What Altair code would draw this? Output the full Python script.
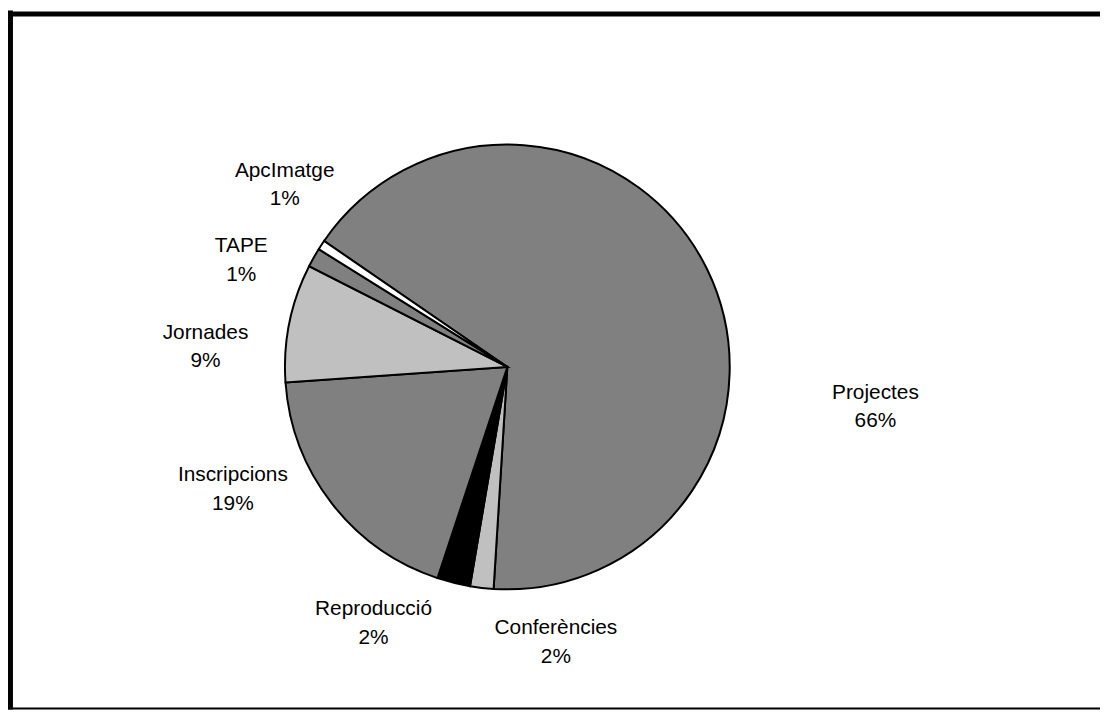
import math
import altair as alt
import pandas as pd

# ---- data ----
categories = ["Projectes", "Conferències", "Reproducció", "Inscripcions",
              "Jornades", "TAPE", "ApcImatge"]
values = [66.4, 1.7, 2.4, 18.8, 8.6, 1.4, 0.7]

# ---- styles / layout (kept apart from the data) ----
slice_colors = ["#808080", "#C0C0C0", "#000000", "#808080",
                "#C0C0C0", "#808080", "#FFFFFF"]
# angular nudge (deg) from slice middle and distance of each label from centre
label_nudge_deg = [32.2, -16.6, 13.6, 13.8, -7.7, -7.6, 6.0]
label_radius = [373.0, 281.7, 291.2, 302.8, 304.7, 288.8, 289.6]

START = math.radians(304.5)   # first slice starts here (clockwise from 12 o'clock)
TWO_PI = 2 * math.pi
CX, CY = 503, 359              # pie centre inside the SVG
R = 224
W, H = 1100, 704
LINE_H = 29

df = pd.DataFrame({
    "idx": list(range(len(categories))),
    "cat": categories,
    "value": values,
    "nudge": label_nudge_deg,
    "lr": label_radius,
})

base = alt.Chart(df)

pie = base.mark_arc(outerRadius=R, stroke="black", strokeWidth=2).encode(
    theta=alt.Theta("value:Q", stack=True,
                    scale=alt.Scale(range=[START, START + TWO_PI])),
    color=alt.Color("cat:N", scale=alt.Scale(domain=categories, range=slice_colors),
                    legend=None),
    order=alt.Order("idx:Q"),
    x=alt.value(CX),
    y=alt.value(CY),
)

labels = base.transform_joinaggregate(
    total="sum(value)"
).transform_window(
    cum="sum(value)", sort=[alt.SortField("idx")], frame=[None, 0]
).transform_calculate(
    ang=f"{START} + {TWO_PI} * (datum.cum - datum.value / 2) / datum.total + datum.nudge * PI / 180",
    label="datum.cat + '\\n' + format(datum.value / datum.total, '.0%')",
).mark_text(
    font="Liberation Sans", fontSize=21, lineBreak="\n", lineHeight=LINE_H,
    align="center", baseline="middle", color="black", dy=-LINE_H / 2,
).encode(
    theta=alt.Theta("ang:Q", scale=None, stack=None),
    radius=alt.Radius("lr:Q", scale=None),
    text="label:N",
    x=alt.value(CX),
    y=alt.value(CY),
)

one = pd.DataFrame({"k": [0]})
frame_top = alt.Chart(one).mark_rule(color="black", strokeWidth=5).encode(
    x=alt.value(0), x2=alt.value(W), y=alt.value(3.5))
frame_left = alt.Chart(one).mark_rule(color="black", strokeWidth=5).encode(
    x=alt.value(2.5), y=alt.value(0), y2=alt.value(H))
frame_bottom = alt.Chart(one).mark_rule(color="black", strokeWidth=2).encode(
    x=alt.value(0), x2=alt.value(W), y=alt.value(H - 1))

chart = alt.layer(frame_top, frame_left, frame_bottom, pie, labels).properties(
    width=W, height=H, autosize=alt.AutoSizeParams(type="none"), padding=0,
    background="white",
).configure_view(stroke=None)

chart.save("out.html", embed_options={"renderer": "svg", "actions": False})
